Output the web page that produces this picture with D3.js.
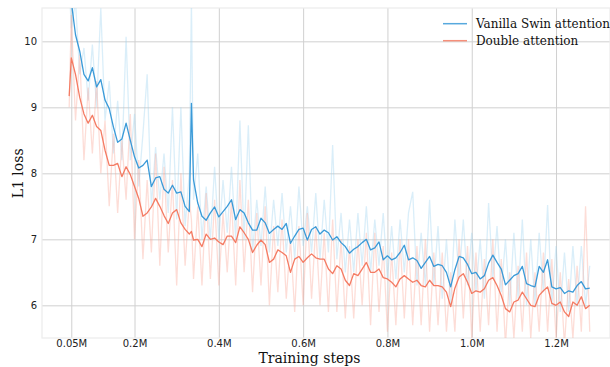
<!DOCTYPE html>
<html>
<head>
<meta charset="utf-8">
<script src="https://cdn.jsdelivr.net/npm/d3@7"></script>
<style>
  body { margin: 0; background: #fff; }
  svg { display: block; }
</style>
</head>
<body>
<div id="chart"></div>
<script>
// training steps (millions)
const steps = [0.045, 0.05, 0.06, 0.07, 0.08, 0.09, 0.10, 0.11, 0.12, 0.13, 0.14, 0.15, 0.16, 0.17, 0.18, 0.19,
  0.20, 0.21, 0.22, 0.23, 0.24, 0.25, 0.26, 0.27, 0.28, 0.29, 0.30, 0.31, 0.32, 0.33, 0.335, 0.34, 0.35, 0.36, 0.37, 0.38, 0.39,
  0.40, 0.41, 0.42, 0.43, 0.44, 0.45, 0.46, 0.47, 0.48, 0.49, 0.50, 0.51, 0.52, 0.53, 0.54, 0.55, 0.56, 0.57, 0.58, 0.59,
  0.60, 0.61, 0.62, 0.63, 0.64, 0.65, 0.66, 0.67, 0.68, 0.69, 0.70, 0.71, 0.72, 0.73, 0.74, 0.75, 0.76, 0.77, 0.78, 0.79,
  0.80, 0.81, 0.82, 0.83, 0.84, 0.85, 0.86, 0.87, 0.88, 0.89, 0.90, 0.91, 0.92, 0.93, 0.94, 0.95, 0.96, 0.97, 0.98, 0.99,
  1.00, 1.01, 1.02, 1.03, 1.04, 1.05, 1.06, 1.07, 1.08, 1.09, 1.10, 1.11, 1.12, 1.13, 1.14, 1.15, 1.16, 1.17, 1.18, 1.19,
  1.20, 1.21, 1.22, 1.23, 1.24, 1.25, 1.26, 1.27, 1.28];

// smoothed curves
const swinSmooth = [10.8, 10.6, 10.1, 9.85, 9.5, 9.4, 9.6, 9.31, 9.42, 9.11, 8.98, 8.7, 8.47, 8.52, 8.76, 8.5,
  8.25, 8.08, 8.12, 8.2, 7.8, 7.93, 7.95, 7.76, 7.7, 7.82, 7.7, 7.72, 7.5, 7.42, 9.06, 7.9, 7.55, 7.35, 7.29, 7.4, 7.49,
  7.34, 7.42, 7.5, 7.6, 7.3, 7.45, 7.4, 7.25, 7.14, 7.14, 7.32, 7.25, 7.09, 7.15, 7.2, 7.15, 7.24, 6.94, 7.05, 7.15,
  7.17, 6.99, 7.15, 7.19, 7.08, 7.14, 7.1, 6.99, 7.04, 6.95, 6.89, 6.79, 6.85, 6.89, 6.95, 7.0, 6.84, 6.87, 6.96, 6.69,
  6.75, 6.69, 6.72, 6.8, 6.91, 6.69, 6.72, 6.68, 6.56, 6.65, 6.74, 6.59, 6.62, 6.6, 6.5, 6.28, 6.54, 6.74, 6.72, 6.62,
  6.48, 6.5, 6.4, 6.45, 6.64, 6.76, 6.65, 6.55, 6.31, 6.38, 6.45, 6.48, 6.59, 6.33, 6.3, 6.28, 6.59, 6.5, 6.69, 6.28,
  6.25, 6.27, 6.18, 6.22, 6.2, 6.3, 6.36, 6.25, 6.26];

const doubleSmooth = [9.17, 9.75, 9.5, 9.15, 8.9, 8.76, 8.88, 8.71, 8.65, 8.35, 8.12, 8.12, 8.15, 7.95, 8.1, 7.98,
  7.8, 7.62, 7.35, 7.4, 7.49, 7.62, 7.5, 7.36, 7.24, 7.4, 7.45, 7.25, 7.15, 7.08, 7.12, 6.99, 7.0, 6.89, 7.08, 7.0, 7.02,
  6.96, 6.92, 7.05, 7.05, 6.95, 7.19, 7.1, 7.0, 6.8, 6.91, 6.99, 6.92, 6.65, 6.7, 6.84, 6.8, 6.75, 6.5, 6.7, 6.74,
  6.65, 6.72, 6.78, 6.72, 6.7, 6.7, 6.55, 6.48, 6.6, 6.55, 6.38, 6.3, 6.48, 6.45, 6.55, 6.65, 6.5, 6.5, 6.55, 6.42,
  6.4, 6.35, 6.28, 6.4, 6.45, 6.4, 6.35, 6.38, 6.3, 6.28, 6.38, 6.3, 6.3, 6.28, 6.2, 5.98, 6.26, 6.43, 6.48, 6.35,
  6.18, 6.22, 6.2, 6.25, 6.38, 6.42, 6.3, 6.15, 5.95, 5.9, 6.05, 6.08, 6.2, 6.1, 6.0, 5.98, 6.15, 6.22, 6.28, 6.03,
  6.0, 6.05, 5.9, 5.83, 6.05, 6.0, 6.13, 5.95, 6.0];

// raw (unsmoothed) losses
const swinRaw = [10.9, 10.2, 10.6, 9.5, 9.9, 9.1, 9.95, 9.0, 10.5, 8.8, 9.4, 8.3, 9.1, 8.2, 10.07, 8.2,
  8.9, 7.8, 8.6, 9.5, 7.5, 8.4, 7.6, 8.3, 7.4, 9.0, 7.3, 9.0, 7.2, 8.0, 10.6, 7.6, 8.3, 7.0, 7.8, 7.0, 8.1,
  7.0, 7.9, 7.1, 8.1, 7.0, 8.8, 7.0, 8.73, 6.8, 7.6, 6.9, 7.8, 6.8, 7.6, 6.9, 7.7, 6.8, 7.5, 6.7, 7.8,
  6.9, 7.5, 6.8, 7.7, 6.7, 7.6, 6.8, 8.43, 6.7, 7.4, 6.5, 7.3, 6.5, 7.4, 6.6, 7.5, 6.5, 7.3, 6.6, 7.4,
  6.4, 7.2, 6.4, 7.3, 6.5, 7.4, 7.72, 6.3, 7.1, 6.3, 7.6, 6.3, 7.2, 6.1, 7.0, 6.0, 7.3, 6.4, 7.3, 6.3,
  7.1, 6.2, 7.0, 6.1, 7.55, 6.4, 7.2, 6.2, 7.0, 6.0, 7.1, 6.1, 7.3, 6.0, 7.0, 6.0, 7.1, 6.2, 7.52, 6.0,
  6.9, 5.9, 6.8, 5.9, 6.9, 6.0, 6.9, 6.0, 6.6];

const doubleRaw = [9.0, 10.4, 8.8, 9.8, 8.2, 9.3, 8.3, 9.4, 8.0, 8.8, 7.5, 8.6, 7.4, 8.5, 7.6, 8.9,
  7.0, 8.2, 6.7, 7.9, 6.8, 8.3, 6.6, 8.1, 6.8, 7.9, 6.3, 8.0, 6.6, 7.6, 7.3, 6.4, 7.5, 6.3, 7.7, 6.4, 7.6,
  6.3, 7.4, 6.5, 7.6, 6.3, 7.9, 6.5, 7.6, 6.2, 7.4, 6.3, 7.5, 6.0, 7.2, 6.2, 7.3, 6.1, 7.0, 5.9, 7.2,
  6.0, 7.4, 6.1, 7.2, 6.0, 7.1, 5.9, 7.3, 5.9, 7.0, 5.8, 6.9, 5.8, 7.0, 6.0, 7.1, 5.7, 7.1, 5.9, 6.9,
  5.6, 6.8, 5.7, 7.0, 5.8, 7.0, 5.7, 6.9, 5.7, 7.0, 5.6, 6.8, 5.7, 6.8, 5.6, 6.5, 5.6, 7.0, 5.8, 6.9,
  5.5, 6.8, 5.6, 6.7, 5.7, 7.0, 5.6, 6.7, 5.4, 6.5, 5.5, 6.6, 5.6, 6.8, 5.5, 6.5, 5.6, 6.8, 5.6, 6.7,
  5.5, 6.5, 5.4, 6.4, 5.5, 6.6, 5.6, 7.5, 5.6];

const xTicks = [0.05, 0.2, 0.4, 0.6, 0.8, 1.0, 1.2];
const xTickLabels = ['0.05M', '0.2M', '0.4M', '0.6M', '0.8M', '1.0M', '1.2M'];
const yTicks = [6, 7, 8, 9, 10];

const seriesNames = ['Vanilla Swin attention', 'Double attention'];
const lineColors = ['#3a9ad8', '#f47b63'];
const rawColors = ['#9fd1ee', '#f9a595'];

const width = 610;
const height = 367;
const margin = { left: 42, right: 0, top: 8, bottom: 29 };
const graphWidth = width - margin.left - margin.right;
const graphHeight = height - margin.top - margin.bottom;

const x = d3.scaleLinear()
  .domain([-0.0195, 1.328])
  .range([0, graphWidth]);

const y = d3.scaleLinear()
  .domain([5.505, 10.505])
  .range([graphHeight, 0]);

const svg = d3.select('#chart')
  .append('svg')
  .attr('width', width)
  .attr('height', height);

const graph = svg.append('g')
  .attr('transform', `translate(${margin.left}, ${margin.top})`);

graph.append('clipPath')
  .attr('id', 'clip')
  .append('rect')
  .attr('width', graphWidth)
  .attr('height', graphHeight);

// Grid lines via axes
const xGrid = graph.append('g')
  .attr('transform', `translate(0, ${graphHeight})`)
  .call(d3.axisBottom(x).tickValues(xTicks).tickSize(-graphHeight).tickPadding(2).tickFormat((d, i) => xTickLabels[i]));
xGrid.select('.domain').remove();
xGrid.selectAll('line').attr('stroke', '#d0d0d0').attr('stroke-width', 1);
xGrid.selectAll('text')
  .attr('fill', '#222')
  .attr('font-family', 'DejaVu Sans, sans-serif')
  .attr('font-size', 10);

const yGrid = graph.append('g')
  .call(d3.axisLeft(y).tickValues(yTicks).tickSize(-graphWidth).tickPadding(5).tickFormat(d3.format('d')));
yGrid.select('.domain').remove();
yGrid.selectAll('line').attr('stroke', '#d0d0d0').attr('stroke-width', 1);
yGrid.selectAll('text')
  .attr('fill', '#222')
  .attr('font-family', 'DejaVu Sans, sans-serif')
  .attr('font-size', 10);

// frame
graph.append('rect')
  .attr('width', graphWidth)
  .attr('height', graphHeight)
  .attr('fill', 'none')
  .attr('stroke', '#ececec')
  .attr('stroke-width', 1.2);

const lines = graph.append('g').attr('clip-path', 'url(#clip)');

const line = d3.line()
  .x((d, i) => x(steps[i]))
  .y(d => y(d));

// raw curves underneath
[swinRaw, doubleRaw].forEach((data, k) => {
  lines.append('path')
    .datum(data)
    .attr('fill', 'none')
    .attr('stroke', rawColors[k])
    .attr('stroke-opacity', 0.38)
    .attr('stroke-width', 1.3)
    .attr('d', line);
});

// smoothed curves
[swinSmooth, doubleSmooth].forEach((data, k) => {
  lines.append('path')
    .datum(data)
    .attr('fill', 'none')
    .attr('stroke', lineColors[k])
    .attr('stroke-width', 1.3)
    .attr('stroke-linejoin', 'round')
    .attr('d', line);
});

// Axis labels
svg.append('text')
  .attr('x', margin.left + x(0.615))
  .attr('y', 362.5)
  .attr('text-anchor', 'middle')
  .attr('font-family', 'DejaVu Serif, serif')
  .attr('font-size', 14)
  .attr('fill', '#111')
  .text('Training steps');

svg.append('text')
  .attr('transform', `translate(23, ${margin.top + y(8)}) rotate(-90)`)
  .attr('text-anchor', 'middle')
  .attr('font-family', 'DejaVu Serif, serif')
  .attr('font-size', 14)
  .attr('fill', '#111')
  .text('L1 loss');

// Legend
const legend = svg.append('g')
  .attr('font-family', 'DejaVu Serif, serif')
  .attr('font-size', 12)
  .selectAll('g')
  .data(seriesNames)
  .join('g')
  .attr('transform', (d, i) => `translate(443, ${23.7 + i * 17})`);

legend.append('line')
  .attr('x1', 0)
  .attr('x2', 24)
  .attr('stroke', (d, i) => lineColors[i])
  .attr('stroke-opacity', 0.85)
  .attr('stroke-width', 1.5);

legend.append('text')
  .attr('x', 33)
  .attr('dy', '0.35em')
  .attr('fill', '#111')
  .text(d => d);
</script>
</body>
</html>
